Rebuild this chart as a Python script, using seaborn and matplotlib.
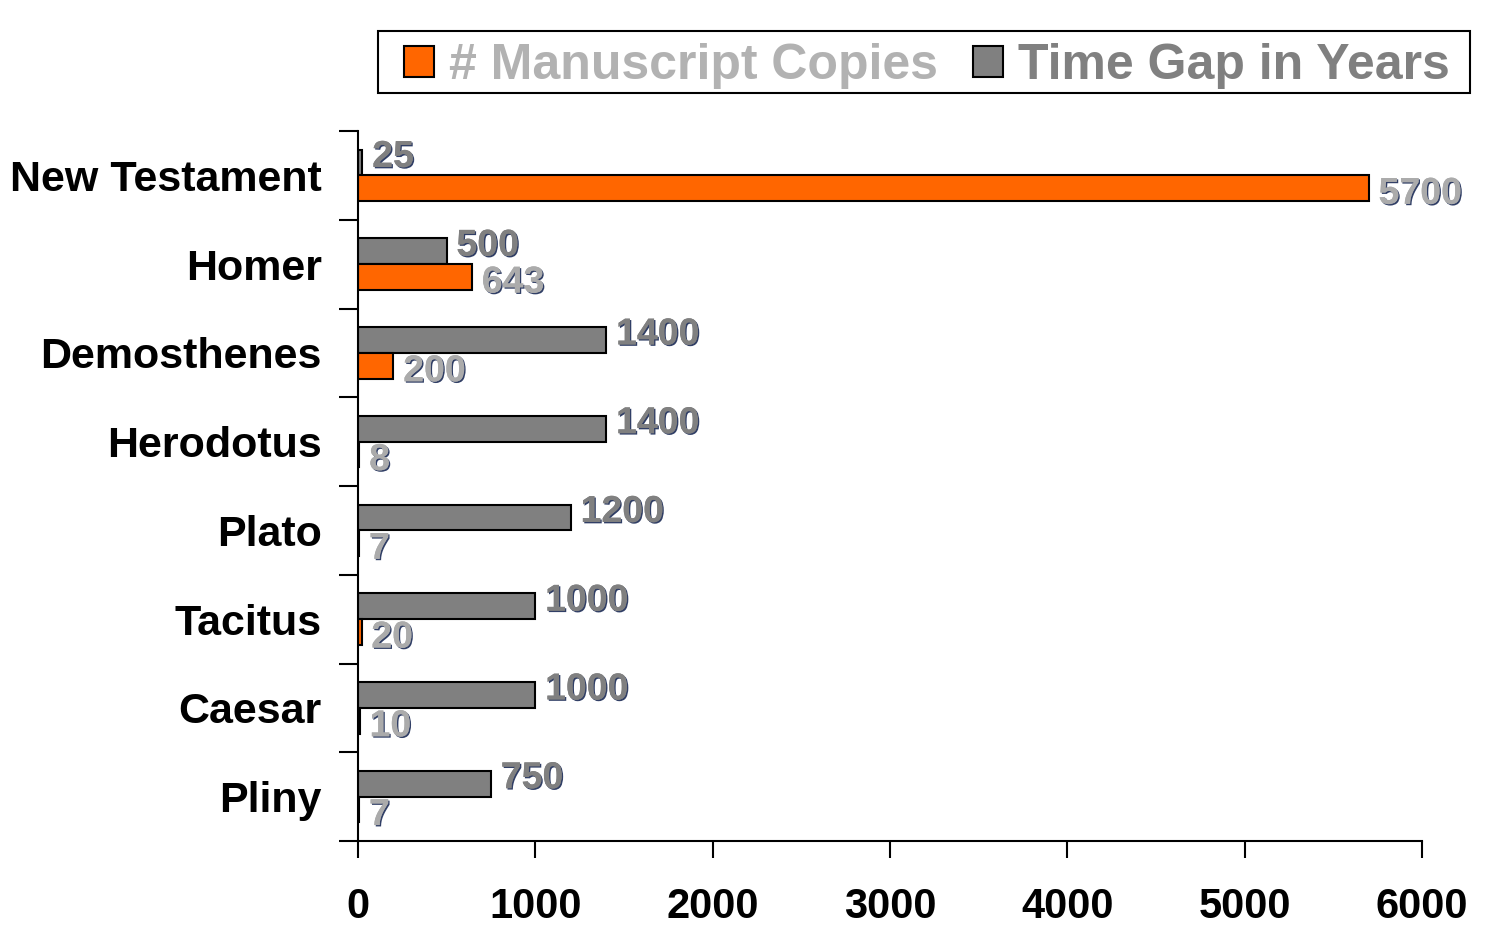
import matplotlib
matplotlib.use("Agg")
import matplotlib.pyplot as plt
import matplotlib.patheffects as pe
from matplotlib.patches import Patch, Rectangle
from matplotlib.ticker import FixedLocator
import pandas as pd
import seaborn as sns

works = ["New Testament", "Homer", "Demosthenes", "Herodotus",
         "Plato", "Tacitus", "Caesar", "Pliny"]
copies = [5700, 643, 200, 8, 7, 20, 10, 7]
gap_years = [25, 500, 1400, 1400, 1200, 1000, 1000, 750]
x_ticks = [0, 1000, 2000, 3000, 4000, 5000, 6000]

COPIES = "# Manuscript Copies"
GAP = "Time Gap in Years"

df = pd.DataFrame({
    "work": works * 2,
    "value": gap_years + copies,
    "series": [GAP] * len(works) + [COPIES] * len(works),
})

sns.set_style("white")
plt.rcParams["font.family"] = ["Liberation Sans", "DejaVu Sans"]
plt.rcParams["font.weight"] = "bold"
plt.rcParams["text.color"] = "black"
plt.rcParams["xtick.color"] = "black"
plt.rcParams["ytick.color"] = "black"

W, H = 1485, 951
fig = plt.figure(figsize=(W / 100, H / 100), dpi=100)
ax = fig.add_axes([358 / W, 1 - 841 / H, 1064 / W, 710 / H])

colors = {GAP: "#808080", COPIES: "#FF6600"}
sns.barplot(data=df, y="work", x="value", hue="series", hue_order=[GAP, COPIES],
            palette=colors, orient="h", width=0.58, edgecolor="black",
            linewidth=1.5, saturation=1, legend=False, ax=ax)

# value labels with a dark embossed edge; gray labels nudged up, orange down
label_colors = {0: "#808080", 1: "#ABABAB"}
nudge = {0: 4, 1: -4}
shadow = [pe.withSimplePatchShadow(offset=(1, -1), shadow_rgbFace="#1a2a55", alpha=0.9),
          pe.Normal()]
for i, cont in enumerate(ax.containers):
    for bar in cont:
        w = bar.get_width()
        ax.annotate(f"{int(round(w))}", (w, bar.get_y() + bar.get_height() / 2),
                    xytext=(7, nudge[i]), textcoords="offset points", va="center",
                    ha="left", fontsize=27, fontweight="bold", color=label_colors[i],
                    path_effects=shadow)

ax.set_xlim(0, 6000)
ax.set_ylim(len(works) - 0.5, -0.5)
ax.set_xticks(x_ticks)
ax.set_xticklabels([str(t) for t in x_ticks], fontsize=30, fontweight="bold",
                   color="black")
ax.set_yticks(range(len(works)))
ax.set_yticklabels(works, fontsize=31, fontweight="bold", color="black")
ax.yaxis.set_minor_locator(FixedLocator([i - 0.5 for i in range(len(works) + 1)]))
ax.tick_params(axis="y", which="major", length=0, pad=26)
ax.tick_params(axis="y", which="minor", length=14, width=1.5, color="black", left=True)
ax.tick_params(axis="x", length=12, width=1.5, color="black", pad=21, bottom=True)
ax.set_xlabel("")
ax.set_ylabel("")

for side in ["top", "right"]:
    ax.spines[side].set_visible(False)
for side in ["left", "bottom"]:
    ax.spines[side].set_color("black")
    ax.spines[side].set_linewidth(1.5)

# legend box, then the legend entries centred inside it
fig.patches.append(Rectangle((378 / W, 1 - 93 / H), 1092 / W, 62 / H,
                             transform=fig.transFigure, facecolor="white",
                             edgecolor="black", linewidth=1.5, zorder=0))
handles = [Patch(facecolor=colors[COPIES], edgecolor="black", linewidth=1.5),
           Patch(facecolor=colors[GAP], edgecolor="black", linewidth=1.5)]
leg = fig.legend(handles, [COPIES, GAP], loc="center",
                 bbox_to_anchor=(927 / W, 1 - 66 / H), ncol=2,
                 fontsize=36, frameon=False, handlelength=0.6,
                 handleheight=0.6, handletextpad=0.3, columnspacing=0.7,
                 borderpad=0.1, borderaxespad=0)
for txt, c in zip(leg.get_texts(), ["#B2B2B2", "#808080"]):
    txt.set_color(c)
    txt.set_fontweight("bold")

fig.savefig("out.png", dpi=100)
